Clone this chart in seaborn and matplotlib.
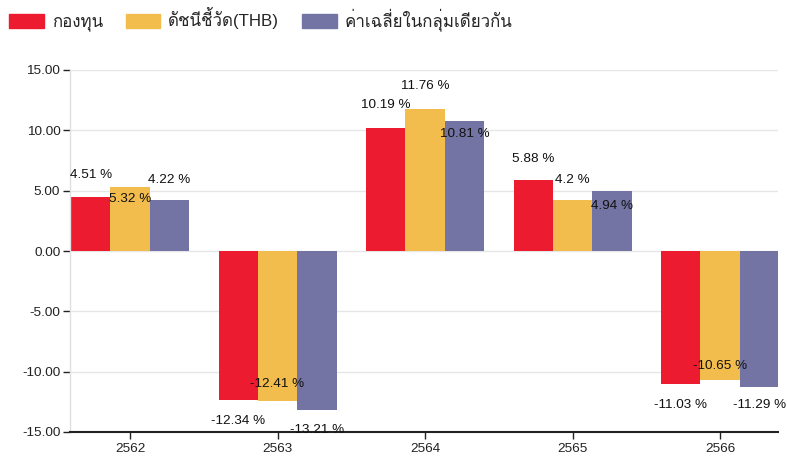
import matplotlib
matplotlib.use("Agg")
import matplotlib.pyplot as plt
from matplotlib import font_manager, ft2font
import seaborn as sns
import pandas as pd
import numpy as np

# ---- data ----
years = ["2562", "2563", "2564", "2565", "2566"]
series_names = ["กองทุน", "ดัชนีชี้วัด(THB)", "ค่าเฉลี่ยในกลุ่มเดียวกัน"]
fund = [4.51, -12.34, 10.19, 5.88, -11.03]
benchmark = [5.32, -12.41, 11.76, 4.2, -10.65]
peer_avg = [4.22, -13.21, 10.81, 4.94, -11.29]
label_texts = [
    ["4.51 %", "-12.34 %", "10.19 %", "5.88 %", "-11.03 %"],
    ["5.32 %", "-12.41 %", "11.76 %", "4.2 %", "-10.65 %"],
    ["4.22 %", "-13.21 %", "10.81 %", "4.94 %", "-11.29 %"],
]
y_ticks = [15, 10, 5, 0, -5, -10, -15]

# ---- style ----
colors = ["#ED1B2F", "#F2BD4D", "#7474A4"]
# label offsets in px, outward from bar end (negative = inside the bar)
label_offsets = [
    [22, 21, 23, 21, 21],
    [-12, -17, 23, 20, -14],
    [20, 20, -13, -15, 18],
]

# find a font with Thai glyphs
thai_font = None
for f in font_manager.fontManager.ttflist:
    try:
        cm = ft2font.FT2Font(f.fname).get_charmap()
        if 0x0E01 in cm and 0x0E17 in cm:
            thai_font = f.name
            break
    except Exception:
        pass

sns.set_theme(style="white")
fams = ["Liberation Sans", "DejaVu Sans"]
if thai_font:
    fams = ["Liberation Sans", thai_font, "DejaVu Sans"]
plt.rcParams["font.family"] = fams

df = pd.DataFrame({
    "year": years * 3,
    "series": [series_names[0]] * 5 + [series_names[1]] * 5 + [series_names[2]] * 5,
    "value": fund + benchmark + peer_avg,
})

fig = plt.figure(figsize=(7.87, 4.57), dpi=100)
ax = fig.add_axes([70 / 787, 1 - 432 / 457, 708 / 787, (432 - 70) / 457])

sns.barplot(data=df, x="year", y="value", hue="series", hue_order=series_names,
            order=years, palette=colors, width=0.8, linewidth=0, saturation=1,
            legend=False, ax=ax)

ax.set_xlim(-0.407, 4.393)
ax.set_ylim(-15, 15)
ax.set_yticks(y_ticks)
ax.set_yticklabels([f"{v:.2f}" for v in y_ticks])
ax.set_xlabel("")
ax.set_ylabel("")
ax.yaxis.grid(True, color="#E6E6E6", linewidth=1)
ax.set_axisbelow(True)
for s in ["top", "right"]:
    ax.spines[s].set_visible(False)
ax.spines["left"].set_color("#E0E0E0")
ax.spines["left"].set_linewidth(1)
ax.spines["bottom"].set_color("#222222")
ax.spines["bottom"].set_linewidth(1.5)
ax.tick_params(axis="y", length=5, width=1, color="#222222", labelsize=9.7, pad=2,
               left=True, labelcolor="#222222")
ax.tick_params(axis="x", length=5, width=1, color="#222222", labelsize=9.7, pad=3,
               bottom=True, labelcolor="#222222")

for si, cont in enumerate(ax.containers):
    for bi, bar in enumerate(cont):
        v = bar.get_height()
        xc = bar.get_x() + bar.get_width() / 2
        off = label_offsets[si][bi] * 0.72
        sign = 1 if v >= 0 else -1
        ax.annotate(label_texts[si][bi], (xc, v), xytext=(0, sign * off),
                    textcoords="offset points", ha="center", va="center",
                    fontsize=9.7, color="#111111", annotation_clip=False)

handles = [plt.Rectangle((0, 0), 1, 1, color=c) for c in colors]
fig.legend(handles, series_names, loc="upper left",
           bbox_to_anchor=(6 / 787, 1 - 4 / 457),
           ncol=3, frameon=False, fontsize=12.2, handlelength=2.05, handleheight=0.9,
           handletextpad=0.45, columnspacing=1.35, borderaxespad=0, borderpad=0.2)

fig.savefig("out.png", dpi=100)
